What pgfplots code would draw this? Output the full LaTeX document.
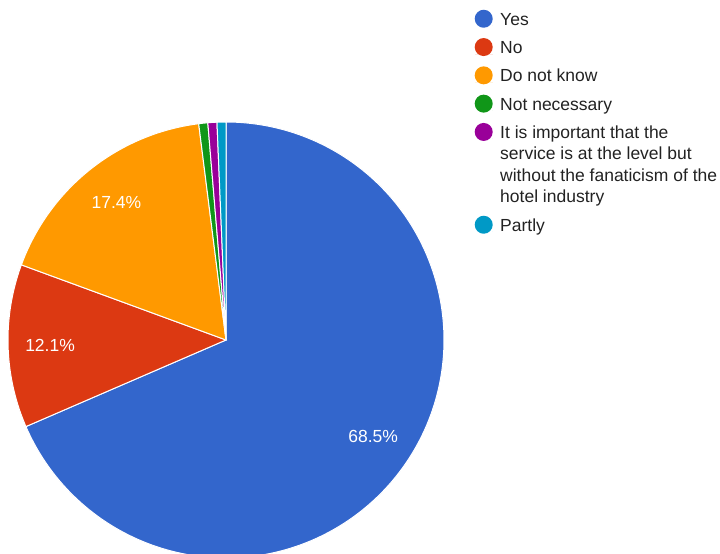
\documentclass[border=0pt]{standalone}
\usepackage{pgfplots}
\pgfplotsset{compat=1.18}
\usepackage{pgfplotstable}
\usepackage{fontspec}
\setmainfont{Liberation Sans}
\definecolor{cYes}{HTML}{3366CC}
\definecolor{cNo}{HTML}{DC3912}
\definecolor{cDnk}{HTML}{FF9900}
\definecolor{cNn}{HTML}{109618}
\definecolor{cImp}{HTML}{990099}
\definecolor{cPar}{HTML}{0099C6}
\definecolor{textc}{HTML}{222222}
\pgfplotstableread{
idx value
0 68.5
1 12.1
2 17.4
3 0.67
4 0.67
5 0.66
}\piedata
\newcommand\LE[1]{\vtop{\hbox{\strut #1}}}
\begin{document}
\begin{tikzpicture}
\pgfplotstablegetelem{0}{value}\of\piedata \pgfmathsetmacro\vA{\pgfplotsretval}
\pgfplotstablegetelem{1}{value}\of\piedata \pgfmathsetmacro\vB{\pgfplotsretval}
\pgfplotstablegetelem{2}{value}\of\piedata \pgfmathsetmacro\vC{\pgfplotsretval}
\pgfplotstablegetelem{3}{value}\of\piedata \pgfmathsetmacro\vD{\pgfplotsretval}
\pgfplotstablegetelem{4}{value}\of\piedata \pgfmathsetmacro\vE{\pgfplotsretval}
\pgfplotstablegetelem{5}{value}\of\piedata \pgfmathsetmacro\vF{\pgfplotsretval}
\pgfmathsetmacro\sA{90}
\pgfmathsetmacro\eA{\sA-3.6*\vA}
\pgfmathsetmacro\eB{\eA-3.6*\vB}
\pgfmathsetmacro\eC{\eB-3.6*\vC}
\pgfmathsetmacro\eD{\eC-3.6*\vD}
\pgfmathsetmacro\eE{\eD-3.6*\vE}
\pgfmathsetmacro\eF{\eE-3.6*\vF}
\pgfmathsetmacro\mA{(\sA+\eA)/2}
\pgfmathsetmacro\mB{(\eA+\eB)/2}
\pgfmathsetmacro\mC{(\eB+\eC)/2}
\begin{axis}[
  width=720pt, height=554pt, scale only axis,
  xmin=0, xmax=720, ymin=0, ymax=554,
  hide axis, clip=true,
  legend image code/.code={\path[use as bounding box] (0pt,0pt) rectangle (18pt,0pt); \fill[#1,draw=none] (9pt,6.5pt) circle (9pt);},
  legend style={at={(axis cs:474,544)}, anchor=north west, draw=none, fill=none,
    inner sep=0pt, row sep=6.8pt, column sep=7pt,
    font=\fontsize{17.5}{21.5}\selectfont, text=textc,
    cells={anchor=base west}, nodes={inner sep=0pt, text depth=, text height=}},
]
\addplot[fill=cYes, draw=white, line width=1pt, domain=\eA:\sA, samples=180, variable=\t]
  ({226+218*cos(\t)},{214+218*sin(\t)}) -- (axis cs:226,214) -- cycle;
\addlegendentry{\LE{Yes}}
\addplot[fill=cNo, draw=white, line width=1pt, domain=\eB:\eA, samples=60, variable=\t]
  ({226+218*cos(\t)},{214+218*sin(\t)}) -- (axis cs:226,214) -- cycle;
\addlegendentry{\LE{No}}
\addplot[fill=cDnk, draw=white, line width=1pt, domain=\eC:\eB, samples=80, variable=\t]
  ({226+218*cos(\t)},{214+218*sin(\t)}) -- (axis cs:226,214) -- cycle;
\addlegendentry{\LE{Do not know}}
\addplot[fill=cNn, draw=white, line width=1pt, domain=\eD:\eC, samples=10, variable=\t]
  ({226+218*cos(\t)},{214+218*sin(\t)}) -- (axis cs:226,214) -- cycle;
\addlegendentry{\LE{Not necessary}}
\addplot[fill=cImp, draw=white, line width=1pt, domain=\eE:\eD, samples=10, variable=\t]
  ({226+218*cos(\t)},{214+218*sin(\t)}) -- (axis cs:226,214) -- cycle;
\addlegendentry{\vtop{\hbox{\strut It is important that the}\hbox{\strut service is at the level but}\hbox{\strut without the fanaticism of the}\hbox{\strut hotel industry}}}
\addplot[fill=cPar, draw=white, line width=1pt, domain=\eF:\eE, samples=10, variable=\t]
  ({226+218*cos(\t)},{214+218*sin(\t)}) -- (axis cs:226,214) -- cycle;
\addlegendentry{\LE{Partly}}
\node[text=white, font=\fontsize{17.5}{21}\selectfont] at (axis cs:{226+176*cos(\mA)},{214+176*sin(\mA)}) {68.5\%};
\node[text=white, font=\fontsize{17.5}{21}\selectfont] at (axis cs:{226+176*cos(\mB)},{214+176*sin(\mB)}) {12.1\%};
\node[text=white, font=\fontsize{17.5}{21}\selectfont] at (axis cs:{226+176*cos(\mC)},{214+176*sin(\mC)}) {17.4\%};
\end{axis}
\pgfresetboundingbox
\useasboundingbox (current axis.south west) rectangle (current axis.north east);
\end{tikzpicture}
\end{document}
